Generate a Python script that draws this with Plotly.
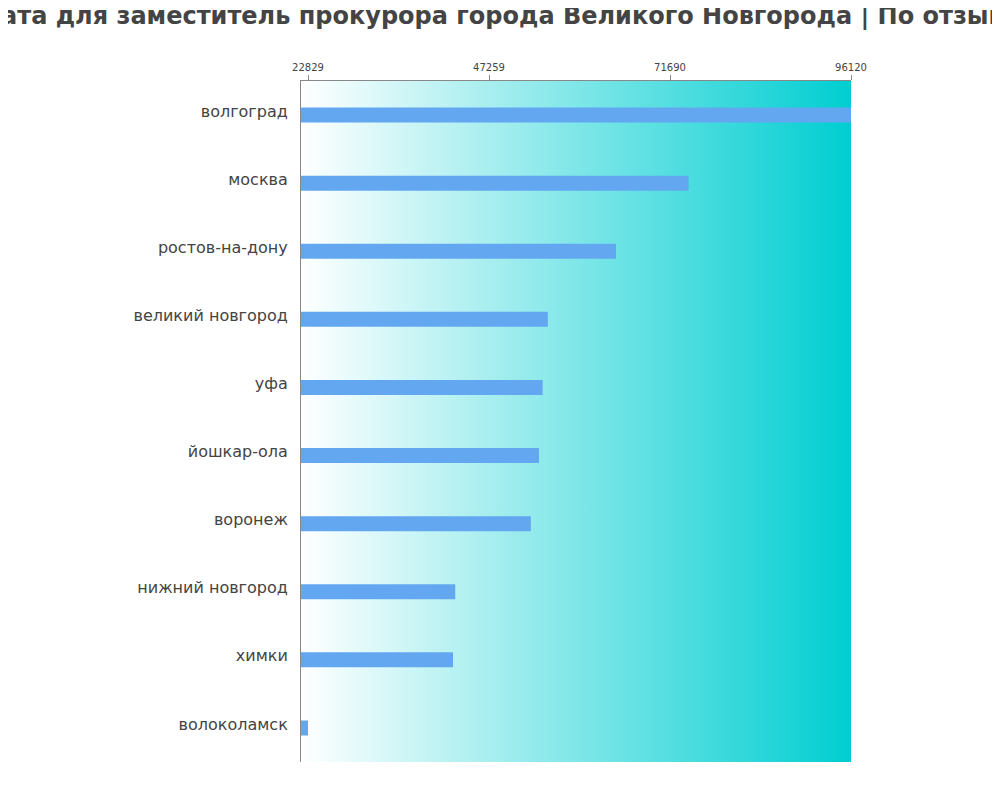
import plotly.graph_objects as go

cities = ["волгоград", "москва", "ростов-на-дону", "великий новгород", "уфа",
          "йошкар-ола", "воронеж", "нижний новгород", "химки", "волоколамск"]
salaries = [96120, 74200, 64400, 55200, 54500, 54000, 52900, 42700, 42400, 22829]
tick_vals = [22829, 47259, 71690, 96120]

x_min = 21880
x_max = max(salaries)
positions = list(range(len(cities)))
y_range = [len(cities) - 0.5, -0.5]

fig = go.Figure()

# gradient background of the plot area (main axes, drawn underneath)
fig.add_trace(go.Scatter(
    x=[x_min, x_max, x_max, x_min, x_min],
    y=[-0.5, -0.5, len(cities) - 0.5, len(cities) - 0.5, -0.5],
    mode="lines", line=dict(width=0), fill="toself",
    fillgradient=dict(type="horizontal",
                      colorscale=[[0, "#ffffff"], [1, "#00ced1"]]),
    hoverinfo="skip", showlegend=False,
))

# bars on overlaid axes so they sit above the gradient
fig.add_trace(go.Bar(
    x=salaries, y=positions, orientation="h",
    marker=dict(color="#63a7f1", line=dict(width=0)),
    width=0.22, showlegend=False, xaxis="x2", yaxis="y2",
))

fig.update_layout(
    width=1000, height=800,
    margin=dict(l=293, r=157, t=73, b=46),
    paper_bgcolor="white", plot_bgcolor="white",
    font=dict(family="DejaVu Sans", color="#444444"),
    title=dict(text="<b>Зарплата для заместитель прокурора города Великого Новгорода | По отзывам</b>",
               x=0.470, xanchor="center", y=0.991, yanchor="middle",
               font=dict(size=24, color="#444444")),
    xaxis=dict(range=[x_min, x_max], side="top", tickvals=tick_vals, tickformat="d",
               tickfont=dict(size=10, color="#444444"), ticks="outside", ticklen=5,
               tickcolor="#888888", showline=True, linecolor="#888888",
               showgrid=False, zeroline=False),
    yaxis=dict(range=y_range, tickvals=positions, ticktext=cities,
               tickfont=dict(size=16, color="#444444"), ticks="outside", ticklen=9,
               tickcolor="rgba(0,0,0,0)", ticklabelshift=4, showline=True,
               linecolor="#888888", showgrid=False, zeroline=False),
    xaxis2=dict(range=[x_min, x_max], overlaying="x", visible=False),
    yaxis2=dict(range=y_range, overlaying="y", visible=False),
)

fig.write_html("out.html")
